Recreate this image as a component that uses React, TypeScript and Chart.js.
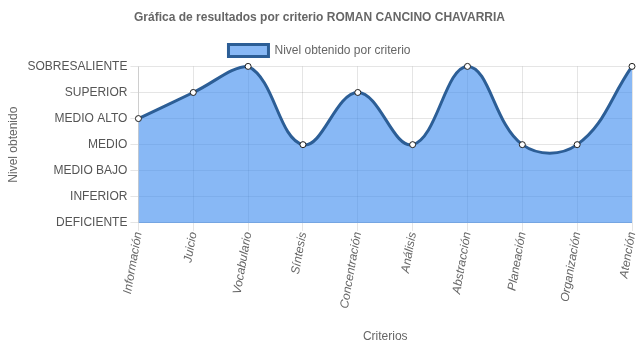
import React, { useEffect, useRef } from "react";
import { Chart, registerables } from "chart.js";

Chart.register(...registerables);

const categories = [
  "Información",
  "Juicio",
  "Vocabulario",
  "Síntesis",
  "Concentración",
  "Análisis",
  "Abstracción",
  "Planeación",
  "Organización",
  "Atención",
];

const levelLabels = [
  "DEFICIENTE",
  "INFERIOR",
  "MEDIO BAJO",
  "MEDIO",
  "MEDIO ALTO",
  "SUPERIOR",
  "SOBRESALIENTE",
];

const values = [4, 5, 6, 3, 5, 3, 6, 3, 3, 6];

const FONT = "'Liberation Sans', Arial, Helvetica, sans-serif";

export default function App() {
  const ref = useRef<HTMLCanvasElement | null>(null);

  useEffect(() => {
    if (!ref.current) return;
    const chart = new Chart(ref.current, {
      type: "line",
      data: {
        labels: categories,
        datasets: [
          {
            label: "Nivel obtenido por criterio",
            data: values,
            fill: "origin",
            backgroundColor: "rgba(57,137,238,0.6)",
            borderColor: "rgb(44,94,150)",
            borderWidth: 3,
            tension: 0.4,
            clip: false as any,
            pointBackgroundColor: "#ffffff",
            pointBorderColor: "rgb(30,30,30)",
            pointBorderWidth: 1,
            pointRadius: 3,
          },
        ],
      },
      options: {
        responsive: true,
        maintainAspectRatio: false,
        animation: false,
        layout: { padding: { left: 2 } },
        font: { family: FONT },
        plugins: {
          title: {
            display: true,
            text: "Gráfica de resultados por criterio ROMAN CANCINO CHAVARRIA",
            color: "#666",
            font: { family: FONT, size: 12, weight: "bold" },
            padding: { top: 10, bottom: 10 },
          },
          legend: {
            display: true,
            labels: {
              color: "#666",
              font: { family: FONT, size: 12 },
              boxWidth: 40,
            },
          },
          tooltip: { enabled: false },
        },
        scales: {
          x: {
            grid: { color: "rgba(0,0,0,0.1)" },
            afterFit: (scale: any) => {
              scale.paddingRight = 2;
            },
            ticks: {
              color: "#666",
              font: { family: FONT, size: 12, style: "italic" },
              minRotation: 80,
              maxRotation: 80,
              padding: 0,
            },
            title: {
              display: true,
              text: "Criterios",
              color: "#666",
              font: { family: FONT, size: 12 },
              padding: { top: 20 },
            },
          },
          y: {
            min: 0,
            max: 6,
            grid: { color: "rgba(0,0,0,0.1)" },
            ticks: {
              stepSize: 1,
              color: "#555",
              font: { family: FONT, size: 12 },
              callback: (v: any) => levelLabels[Number(v)] ?? "",
            },
            title: {
              display: true,
              text: "Nivel obtenido",
              color: "#666",
              font: { family: FONT, size: 12 },
            },
          },
        },
      },
    });
    return () => chart.destroy();
  }, []);

  return (
    <div style={{ position: "absolute", left: 0, top: 0, width: 637, height: 348 }}>
      <canvas ref={ref} />
    </div>
  );
}
